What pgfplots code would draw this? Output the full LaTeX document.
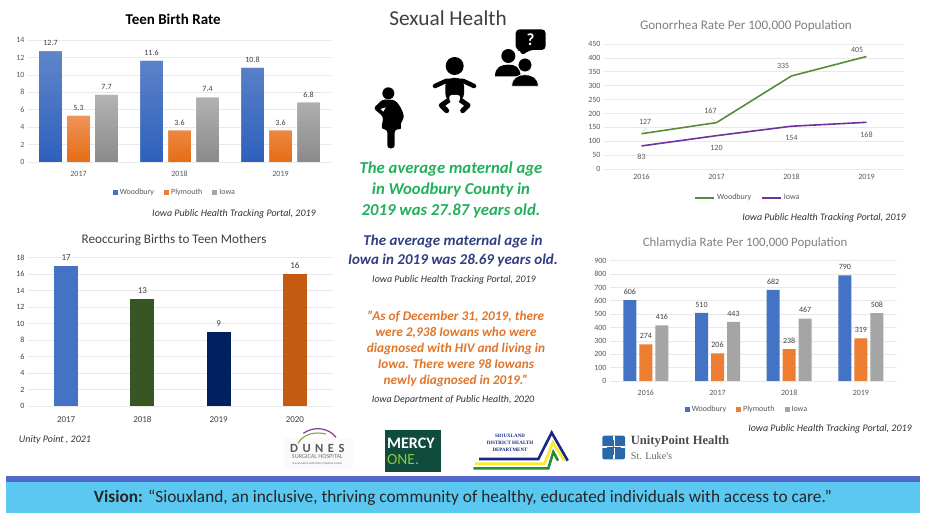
\documentclass[border=0pt]{standalone}
\usepackage{fontspec}
\usepackage{pgfplots}
\pgfplotsset{compat=1.18}
\setmainfont{Carlito}
\newfontfamily\serifbold{Liberation Serif}
\newcommand\fs[1]{\fontsize{#1}{#1}\selectfont}
\definecolor{wdb}{HTML}{4472C4}
\definecolor{wdbT}{HTML}{6085CA}
\definecolor{wdbB}{HTML}{2E60BC}
\definecolor{ply}{HTML}{ED7D31}
\definecolor{plyT}{HTML}{F0935A}
\definecolor{plyB}{HTML}{E66C14}
\definecolor{iow}{HTML}{A5A5A5}
\definecolor{iowT}{HTML}{B3B3B3}
\definecolor{iowB}{HTML}{8A8A8A}
\definecolor{txtg}{HTML}{595959}
\definecolor{txtd}{HTML}{404040}
\definecolor{gridc}{HTML}{E9E9E9}
\definecolor{grn}{HTML}{22B05B}
\definecolor{nvy}{HTML}{2F3F7F}
\definecolor{org}{HTML}{E0762B}
\definecolor{bandD}{HTML}{5468CC}
\definecolor{bandC}{HTML}{5BC8F2}
\definecolor{cA}{HTML}{375623}
\definecolor{cB}{HTML}{002060}
\definecolor{cC}{HTML}{C55A11}
\definecolor{lG}{HTML}{588C38}
\definecolor{lP}{HTML}{7030A0}
\definecolor{duP}{HTML}{823C96}
\definecolor{duG}{HTML}{78AA3C}
\definecolor{moB}{HTML}{0F4C3C}
\definecolor{moG}{HTML}{8CC63F}
\definecolor{siN}{HTML}{192882}
\definecolor{siY}{HTML}{FAEB28}
\definecolor{siG}{HTML}{288C32}
\definecolor{upB}{HTML}{2869AA}
\pgfplotsset{
  chart/.style={
    scale only axis, clip=false, enlargelimits=false,
    axis line style={draw=none}, major tick style={draw=none},
    ymajorgrids, grid style={gridc,line width=.7pt},
    ymin=0,
    /pgf/number format/assume math mode=true,
    tick label style={font=\fs{8},text=txtg},
    xticklabel style={yshift=-1pt,text height=6pt,text depth=0pt},
    title style={anchor=base},
    legend style={draw=none,fill=none,font=\fs{8},text=txtg,legend columns=-1,anchor=center,
      nodes={text height=5.5pt,text depth=1.5pt},
      /tikz/every even column/.append style={column sep=8pt},inner sep=0pt},
  },
  sq/.style={legend image code/.code={\fill[##1,shade=none] (0pt,-2.5pt) rectangle (5pt,2.5pt);}},
  ln/.style={legend image code/.code={\draw[##1] (0pt,0pt) -- (19pt,0pt);}},
  vals/.style={nodes near coords style={font=\fs{#1},text=txtd,yshift=2pt}},
}
\begin{document}
\begin{tikzpicture}
\path[use as bounding box,fill=white] (0,0) rectangle (925pt,513pt);
% ---------- Teen Birth Rate
\begin{axis}[chart,at={(28pt,351pt)},anchor=south west,width=303pt,height=122pt,
  ymax=14,ytick={0,2,...,14},xmin=-.5,xmax=2.5,xtick={0,1,2},xticklabels={2017,2018,2019},
  ybar=5.5pt,bar width=22.5pt,
  nodes near coords={\pgfmathprintnumber[fixed,fixed zerofill,precision=1,assume math mode=true]{\pgfplotspointmeta}},
  vals=8,
  title={\bfseries Teen Birth Rate},
  title style={at={(axis description cs:.479,1)},yshift=9.5pt,font=\fs{15},text=black},
  legend style={at={(axis description cs:.485,-.254)}},
]
\addplot[draw=none,sq,top color=wdbT,bottom color=wdbB,fill=wdb] coordinates {(0,12.7)(1,11.6)(2,10.8)};
\addplot[draw=none,sq,top color=plyT,bottom color=plyB,fill=ply] coordinates {(0,5.3)(1,3.6)(2,3.6)};
\addplot[draw=none,sq,top color=iowT,bottom color=iowB,fill=iow] coordinates {(0,7.7)(1,7.4)(2,6.8)};
\legend{Woodbury,Plymouth,Iowa}
\end{axis}
% ---------- Reoccuring
\begin{axis}[chart,at={(28pt,107pt)},anchor=south west,width=305pt,height=148.3pt,
  ymax=18,ytick={0,2,...,18},xmin=-.5,xmax=3.5,xtick={0,1,2,3},xticklabels={2017,2018,2019,2020},
  tick label style={font=\fs{8},text=txtd},
  xticklabel style={font=\fs{9},yshift=-2pt},
  ybar=0pt,bar width=24pt,
  nodes near coords,vals=9,
  title={Reoccuring Births to Teen Mothers},
  title style={at={(axis description cs:.479,1)},yshift=8.5pt,font=\fs{13.2},text=txtd},
]
\addplot[draw=none,fill=wdb,bar shift=0pt] coordinates {(0,17)};
\addplot[draw=none,fill=cA,bar shift=0pt] coordinates {(1,13)};
\addplot[draw=none,fill=cB,bar shift=0pt] coordinates {(2,9)};
\addplot[draw=none,fill=cC,bar shift=0pt] coordinates {(3,16)};
\end{axis}
% ---------- Gonorrhea
\begin{axis}[chart,at={(604pt,344pt)},anchor=south west,width=300pt,height=125pt,
  ymax=450,ytick={0,50,...,450},xmin=-.5,xmax=3.5,xtick={0,1,2,3},xticklabels={2016,2017,2018,2019},
  title={Gonorrhea Rate Per 100,000 Population},
  title style={at={(axis description cs:.473,1)},yshift=8.5pt,font=\fs{13.1},text=gray},
  legend style={at={(axis description cs:.48,-.232)}},
]
\addplot[ln,color=lG,line width=1.6pt,
  visualization depends on={value \thisrow{dx}\as\dx},
  visualization depends on={value \thisrow{dy}\as\dy},
  nodes near coords,
  nodes near coords style={anchor=center,xshift=\dx pt,yshift=\dy pt,font=\fs{8},text=txtg},
  ] table[x=x,y=y,meta=y] {
x y dx dy
0 127 3.6 11.4
1 167 -6 11.3
2 335 -8.4 9.7
3 405 -9.3 6.8
};
\addplot[ln,color=lP,line width=1.6pt,
  visualization depends on={value \thisrow{dx}\as\dx},
  visualization depends on={value \thisrow{dy}\as\dy},
  nodes near coords,
  nodes near coords style={anchor=center,xshift=\dx pt,yshift=\dy pt,font=\fs{8},text=txtg},
  ] table[x=x,y=y,meta=y] {
x y dx dy
0 83 0 -11.3
1 120 0 -12.3
2 154 0 -11.5
3 168 0 -12
};
\legend{Woodbury,Iowa}
\end{axis}
% ---------- Chlamydia
\begin{axis}[chart,at={(610pt,132pt)},anchor=south west,width=286.7pt,height=120.3pt,
  ymax=900,ytick={0,100,...,900},xmin=-.5,xmax=3.5,xtick={0,1,2,3},xticklabels={2016,2017,2018,2019},
  ybar=3pt,bar width=13pt,
  nodes near coords,vals=8,
  title={Chlamydia Rate Per 100,000 Population},
  title style={at={(axis description cs:.471,1)},yshift=8.5pt,font=\fs{12.8},text=gray},
  legend style={at={(axis description cs:.478,-.241)}},
]
\addplot[draw=none,sq,fill=wdb] coordinates {(0,606)(1,510)(2,682)(3,790)};
\addplot[draw=none,sq,fill=ply] coordinates {(0,274)(1,206)(2,238)(3,319)};
\addplot[draw=none,sq,fill=iow] coordinates {(0,416)(1,443)(2,467)(3,508)};
\legend{Woodbury,Plymouth,Iowa}
\end{axis}
% ---------- overlay in image pixels
\begin{scope}[x=1pt,y=-1pt,yshift=513pt]
\fill[bandD] (6,476) rectangle (920,482);
\fill[bandC] (6,482) rectangle (920,513);
\node[font=\fs{17.3},text=black!85] at (463,498) {\textbf{Vision:} “Siouxland, an inclusive, thriving community of healthy, educated individuals with access to care.”};
% leaders
\draw[gray!40,line width=.4pt] (642.5,132) -- (646,128);
\draw[gray!40,line width=.4pt] (716.5,122) -- (711,118);
% sources
\tikzset{src/.style={font=\fs{10}\itshape,text=black!80}}
\node[src] at (234,214) {Iowa Public Health Tracking Portal, 2019};
\node[src] at (824,218) {Iowa Public Health Tracking Portal, 2019};
\node[src] at (830,429) {Iowa Public Health Tracking Portal, 2019};
\node[src] at (55,440) {Unity Point , 2021};
\node[src] at (454,280) {Iowa Public Health Tracking Portal, 2019};
\node[src] at (453,400) {Iowa Department of Public Health, 2020};
% centre text
\node[font=\fs{21.3},text=txtd] at (448,18) {Sexual Health};
\node[font=\fontsize{16.7}{21}\selectfont\bfseries\itshape,text=grn,align=center] at (451,189.5) {The average maternal age\\in Woodbury County in\\2019 was 27.87 years old.};
\node[font=\fontsize{15}{19}\selectfont\bfseries\itshape,text=nvy,align=center] at (453,250.5) {The average maternal age in\\Iowa in 2019 was 28.69 years old.};
\node[font=\fontsize{13.3}{16}\selectfont\bfseries\itshape,text=org,align=center] at (456,348.5) {"As of December 31, 2019, there\\were 2,938 Iowans who were\\diagnosed with HIV and living in\\Iowa. There were 98 Iowans\\newly diagnosed in 2019."};
\end{scope}
% ---------- icons, in 3x zoom coordinates
\begin{scope}[x=.33333pt,y=-.33333pt,yshift=513pt,xshift=340pt]
% pregnant woman
\fill[black] (145,280) circle (18);
\fill[black,rounded corners=3] (128,298) -- (100,325) -- (130,350) -- (124,388) -- (142,388) -- (142,445) -- (164,445) -- (164,388) -- (186,388) -- (180,370) .. controls (198,352) and (186,325) .. (165,300) -- cycle;
\fill[white] (137,322) -- (130,335) -- (122,327) -- cycle;
% baby
\fill[black] (344,198) circle (27);
\draw[black,line width=4.5pt,line cap=round,line join=round] (285,258) -- (318,243) -- (370,243) -- (402,258);
\fill[black,rounded corners=8] (316,234) rectangle (372,305);
\draw[black,line width=5pt,line cap=round,line join=round] (330,298) -- (304,316) -- (320,332);
\draw[black,line width=5pt,line cap=round,line join=round] (358,298) -- (384,316) -- (368,332);
\fill[white,rounded corners=3] (326,285) -- (362,285) -- (357,310) -- (331,310) -- cycle;
% people
\fill[black] (505,168) circle (21);
\fill[black] (465,229) .. controls (465,200) and (485,194) .. (505,194) .. controls (525,194) and (540,200) .. (542,229) -- cycle;
\fill[black,draw=white,line width=.8pt] (555,195) circle (21);
\fill[black,draw=white,line width=.8pt] (515,259) .. controls (515,232) and (535,224) .. (555,224) .. controls (575,224) and (595,232) .. (595,259) -- cycle;
\fill[black,rounded corners=4] (527,88) -- (617,88) -- (617,150) -- (568,150) -- (545,168) -- (543,150) -- (527,150) -- cycle;
\node[text=white,font=\fs{17}\bfseries] at (572,120) {?};
\end{scope}
% ---------- logos, in 3x zoom coordinates of the logo strip
\begin{scope}[x=.33333pt,y=-.33333pt,yshift=93pt,xshift=270pt]
\fill[black!2] (42,55) rectangle (248,147);
\draw[duP,line width=1.2pt] (100,40) .. controls (130,18) and (175,22) .. (198,52);
\draw[duG,line width=1.1pt] (84,70) .. controls (100,42) and (135,34) .. (168,42);
\node[font=\fs{12.5}\bfseries,text=black!65,inner sep=0pt] at (142,84) {D\hspace{4.5pt}U\hspace{4.5pt}N\hspace{4.5pt}E\hspace{4.5pt}S};
\node[font=\fs{6.2},text=black!55,inner sep=0pt] at (142,110) {SURGICAL HOSPITAL};
\node[font=\fs{3},text=black!60,inner sep=0pt] at (142,132) {A association with Mercy Medical Center};
% Mercy One
\fill[moB] (344,30) rectangle (513,156);
\node[font=\fs{16}\bfseries,text=white,anchor=west,inner sep=0] at (351,70) {MERCY};
\node[font=\fs{15.5},text=moG,anchor=west,inner sep=0] at (351,118) {ONE.};
% Siouxland
\begin{scope}[line width=2.6pt,line join=miter]
\draw[siN] (627,117) -- (805,117) -- (845,38) -- (893,122);
\draw[siY] (615,131) -- (824,131) -- (848,68) -- (883,122);
\draw[siG] (610,145) -- (835,145) -- (850,96) -- (864,122);
\end{scope}
\node[font=\serifbold\fs{5}\bfseries,text=siN,inner sep=0pt] at (720,48) {SIOUXLAND};
\node[font=\serifbold\fs{5}\bfseries,text=siN,inner sep=0pt] at (720,69) {DISTRICT HEALTH};
\node[font=\serifbold\fs{5}\bfseries,text=siN,inner sep=0pt] at (720,89) {DEPARTMENT};
% UnityPoint
\fill[upB,rounded corners=2] (997,47) rectangle (1065,118);
\draw[white,line width=2pt] (1031,47) -- (1031,118) (997,82) -- (1065,82);
\draw[upB,line width=.6pt] (1031,60) -- (1031,105) (1010,82) -- (1052,82);
\node[font=\serifbold\fs{12.6}\bfseries,text=black!70,anchor=west,inner sep=0] at (1082,63) {UnityPoint Health};
\node[font=\serifbold\fs{10.2},text=black!60,anchor=west,inner sep=0] at (1082,107) {St. Luke's};
\end{scope}
\end{tikzpicture}
\end{document}
